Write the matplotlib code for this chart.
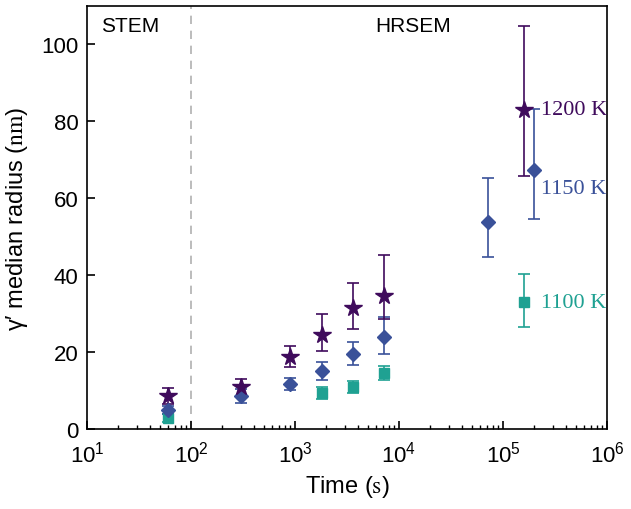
import matplotlib
matplotlib.use("Agg")
import matplotlib.pyplot as plt
import numpy as np

plt.rcParams['font.family'] = ['Liberation Sans', 'DejaVu Sans']
plt.rcParams['mathtext.fontset'] = 'stix'

# 1200 K (stars)
t1200 = [60, 300, 900, 1800, 3600, 7200, 160000]
r1200 = [8.6, 10.8, 18.8, 24.4, 31.5, 34.7, 82.9]
lo1200 = [2.0, 2.2, 2.7, 4.0, 5.5, 6.0, 17.1]
hi1200 = [2.0, 2.2, 2.9, 5.6, 6.5, 10.5, 21.9]

# 1150 K (diamonds)
t1150 = [60, 300, 900, 1800, 3600, 7200, 72000, 200000]
r1150 = [4.9, 8.6, 11.7, 15.0, 19.5, 23.9, 53.9, 67.3]
lo1150 = [1.0, 1.8, 1.5, 2.3, 2.9, 4.4, 9.2, 12.8]
hi1150 = [1.0, 1.8, 1.5, 2.4, 3.1, 5.1, 11.3, 15.8]

# 1100 K (squares)
t1100 = [60, 1800, 3600, 7200, 160000]
r1100 = [2.8, 9.4, 10.9, 14.5, 32.9]
lo1100 = [1.0, 1.5, 1.5, 1.8, 6.3]
hi1100 = [1.0, 1.5, 1.5, 1.8, 7.5]

c1200 = '#3f0b5c'
c1150 = '#3a5199'
c1100 = '#1fa192'

fig = plt.figure(figsize=(6.31, 5.10), dpi=100)
ax = fig.add_axes([87/631, 1-430/510, 520/631, 423/510])

ax.axvline(100, color='#b0b0b0', ls=(0, (5, 4)), lw=1.2, zorder=0)

ax.errorbar(t1100, r1100, yerr=[lo1100, hi1100], fmt='s', color=c1100, ms=7,
            ecolor=c1100, elinewidth=1.2, capsize=4, capthick=1.2)
ax.errorbar(t1150, r1150, yerr=[lo1150, hi1150], fmt='D', color=c1150, ms=7,
            ecolor=c1150, elinewidth=1.2, capsize=4, capthick=1.2)
ax.errorbar(t1200, r1200, yerr=[lo1200, hi1200], fmt='*', color=c1200, ms=13,
            ecolor=c1200, elinewidth=1.2, capsize=4, capthick=1.2)

ax.set_xscale('log')
ax.set_xlim(10, 1e6)
ax.set_ylim(0, 110)
ax.set_yticks([0, 20, 40, 60, 80, 100])
ax.tick_params(which='major', direction='in', length=6, width=1.2, labelsize=16,
               top=False, right=False)
ax.tick_params(axis='x', which='major', pad=8)
ax.tick_params(axis='y', which='major', pad=6)
ax.tick_params(which='minor', direction='in', length=3, width=1, top=False, right=False)
ax.xaxis.set_minor_locator(matplotlib.ticker.LogLocator(base=10, subs=np.arange(2, 10), numticks=20))
for s in ax.spines.values():
    s.set_linewidth(1.2)

ax.set_xlabel("Time ($\\mathrm{s}$)", fontsize=17, labelpad=5)
ax.set_ylabel("\u03b3\u2032 median radius ($\\mathrm{nm}$)", fontsize=17, labelpad=8)

ax.text(0.083, 0.955, 'STEM', transform=ax.transAxes, fontsize=15, ha='center', va='center')
ax.text(0.628, 0.955, 'HRSEM', transform=ax.transAxes, fontsize=15, ha='center', va='center')

ax.text(2.3e5, 83, '1200 K', color=c1200, fontsize=16, family='Liberation Serif', va='center', ha='left')
ax.text(2.3e5, 62.5, '1150 K', color=c1150, fontsize=16, family='Liberation Serif', va='center', ha='left')
ax.text(2.3e5, 33, '1100 K', color=c1100, fontsize=16, family='Liberation Serif', va='center', ha='left')

fig.savefig('out.png', dpi=100)
